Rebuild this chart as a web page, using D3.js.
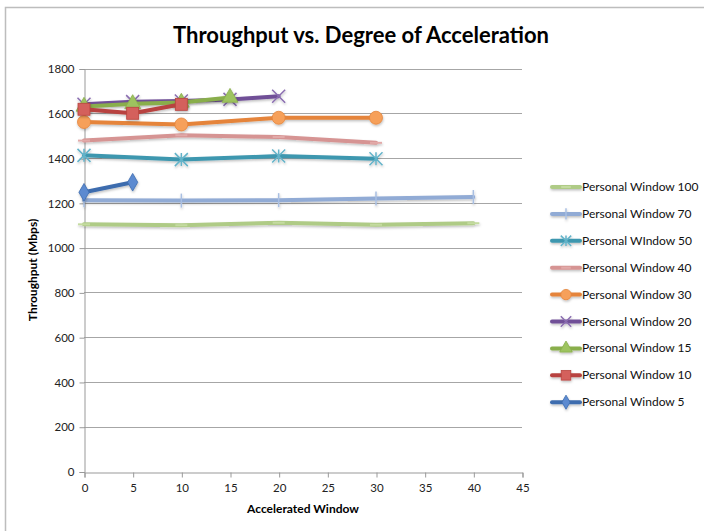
<!DOCTYPE html>
<html><head><meta charset="utf-8">
<script src="https://cdn.jsdelivr.net/npm/d3@7"></script>
<style>
html,body{margin:0;padding:0;background:#fff;}
svg{display:block;}
text{font-family:Lato,"Open Sans",sans-serif;}
</style></head>
<body>
<svg id="c" width="704" height="531"></svg>
<script>
const title = "Throughput vs. Degree of Acceleration";
const xLabel = "Accelerated Window";
const yLabel = "Throughput (Mbps)";
const xTicks = [0,5,10,15,20,25,30,35,40,45];
const yTicks = [0,200,400,600,800,1000,1200,1400,1600,1800];

const seriesNames = ["Personal Window 100","Personal Window 70","Personal WIndow 50","Personal Window 40","Personal Window 30","Personal Window 20","Personal Window 15","Personal Window 10","Personal Window 5"];
const pw100X = [0,10,20,30,40];   const pw100Y = [1104,1100,1111,1102,1109];
const pw70X  = [0,10,20,30,40];   const pw70Y  = [1212,1210,1212,1219,1226];
const pw50X  = [0,10,20,30];      const pw50Y  = [1412,1393,1409,1397];
const pw40X  = [0,10,20,30];      const pw40Y  = [1478,1502,1494,1468];
const pw30X  = [0,10,20,30];      const pw30Y  = [1561,1550,1580,1580];
const pw20X  = [0,5,10,15,20];    const pw20Y  = [1640,1652,1655,1662,1676];
const pw15X  = [0,5,10,15];       const pw15Y  = [1630,1642,1648,1670];
const pw10X  = [0,5,10];          const pw10Y  = [1618,1600,1640];
const pw5X   = [0,5];             const pw5Y   = [1247,1292];

const lineColors = ["#AFCB86","#91ABD5","#3E97AF","#D69493","#E5843A","#704F97","#89AE4B","#B8433F","#3D6CAE"];
const markerFill = ["#C4DBA0","#A9BFE2","#63B3C9","#E2AAA9","#F6A05A","#8A6DB0","#9DC35F","#D4605C","#5B8AD0"];
const markerTypes = ["dash","plus","star","dash","circle","x","triangle","square","diamond"];

const allX = [pw100X,pw70X,pw50X,pw40X,pw30X,pw20X,pw15X,pw10X,pw5X];
const allY = [pw100Y,pw70Y,pw50Y,pw40Y,pw30Y,pw20Y,pw15Y,pw10Y,pw5Y];

const svg = d3.select("#c");
const defs = svg.append("defs");
const f = defs.append("filter").attr("id","sh").attr("filterUnits","userSpaceOnUse")
  .attr("x",0).attr("y",0).attr("width",704).attr("height",531);
f.append("feDropShadow").attr("dx",0.5).attr("dy",1.5).attr("stdDeviation",1).attr("flood-color","#000").attr("flood-opacity",0.25);

// frame
svg.append("rect").attr("x",5.5).attr("y",7.5).attr("width",760).attr("height",600)
  .attr("fill","none").attr("stroke","#BDBDBD").attr("stroke-width",1.5);

const x = d3.scaleLinear().domain([0,45]).range([84,522]);
const y = d3.scaleLinear().domain([0,1800]).range([471.5,68.5]);

// gridlines
svg.append("g").selectAll("line").data(yTicks.filter(d=>d>0)).join("line")
  .attr("x1",x(0)).attr("x2",x(45)).attr("y1",d=>Math.round(y(d))+0.5).attr("y2",d=>Math.round(y(d))+0.5)
  .attr("stroke","#A6A6A6").attr("stroke-width",1);

// axes
const yAxis = d3.axisLeft(y).tickValues(yTicks).tickSize(5).tickPadding(5).tickFormat(d3.format("d"));
const gy = svg.append("g").attr("transform",`translate(${x(0)+0.5},0.5)`).call(yAxis);
const xAxis = d3.axisBottom(x).tickValues(xTicks).tickSize(5).tickPadding(6).tickFormat(d3.format("d"));
const gx = svg.append("g").attr("transform",`translate(0.5,${Math.round(y(0))+0.5})`).call(xAxis);
[gx,gy].forEach(g=>{
  g.select(".domain").attr("stroke","#999");
  g.selectAll(".tick line").attr("stroke","#999");
  g.selectAll(".tick text").attr("fill","#222").style("font-size","11.5px").style("font-family","Lato, sans-serif");
});

// titles
svg.append("text").attr("x",361).attr("y",43).attr("text-anchor","middle")
  .style("font-size","22px").style("font-weight","bold").attr("fill","#000").text(title);
svg.append("text").attr("x",303).attr("y",513).attr("text-anchor","middle")
  .style("font-size","12px").style("font-weight","bold").attr("fill","#000").text(xLabel);
svg.append("text").attr("transform","translate(37,270) rotate(-90)").attr("text-anchor","middle")
  .style("font-size","12px").style("font-weight","bold").attr("fill","#000").text(yLabel);

function drawMarker(g, type, cx, cy, i, scale){
  const s = scale||1;
  const col = lineColors[i], fill = markerFill[i];
  if(type==="dash"){
    g.append("line").attr("x1",cx-6*s).attr("x2",cx+6*s).attr("y1",cy).attr("y2",cy).attr("stroke",fill).attr("stroke-width",2);
  } else if(type==="plus"){
    g.append("line").attr("x1",cx).attr("x2",cx).attr("y1",cy-7*s).attr("y2",cy+7*s).attr("stroke",fill).attr("stroke-width",1.5);
  } else if(type==="star"){
    const r=6.5*s;
    g.append("path").attr("d",`M${cx-r},${cy-r}L${cx+r},${cy+r}M${cx-r},${cy+r}L${cx+r},${cy-r}M${cx},${cy-r}L${cx},${cy+r}`).attr("stroke",fill).attr("stroke-width",1.5).attr("fill","none");
  } else if(type==="x"){
    const r=6.5*s;
    g.append("path").attr("d",`M${cx-r},${cy-r}L${cx+r},${cy+r}M${cx-r},${cy+r}L${cx+r},${cy-r}`).attr("stroke",fill).attr("stroke-width",1.5).attr("fill","none");
  } else if(type==="circle"){
    g.append("circle").attr("cx",cx).attr("cy",cy).attr("r",6.5*s).attr("fill",fill).attr("stroke",col).attr("stroke-width",0.8);
  } else if(type==="triangle"){
    g.append("path").attr("d",d3.symbol(d3.symbolTriangle, 110*s*s)()).attr("transform",`translate(${cx},${cy})`).attr("fill",fill).attr("stroke",col).attr("stroke-width",0.8);
  } else if(type==="square"){
    const r=6*s;
    g.append("rect").attr("x",cx-r).attr("y",cy-r).attr("width",2*r).attr("height",2*r).attr("fill",fill).attr("stroke",col).attr("stroke-width",0.8);
  } else if(type==="diamond"){
    g.append("path").attr("d",d3.symbol(d3.symbolDiamond, 90*s*s)()).attr("transform",`translate(${cx},${cy})`).attr("fill",fill).attr("stroke",col).attr("stroke-width",0.8);
  }
}

const line = d3.line().x(d=>x(d[0])).y(d=>y(d[1]));
seriesNames.forEach((name,i)=>{
  const pts = allX[i].map((v,k)=>[v,allY[i][k]]);
  const g = svg.append("g").attr("filter","url(#sh)");
  g.append("path").datum(pts).attr("d",line).attr("fill","none")
    .attr("stroke",lineColors[i]).attr("stroke-width",4).attr("stroke-linejoin","round").attr("stroke-linecap","round");
  pts.forEach(p=>drawMarker(g, markerTypes[i], x(p[0]), y(p[1]), i, 1));
});

// legend
const lg = svg.append("g");
seriesNames.forEach((name,i)=>{
  const ly = 187 + i*26.9;
  const g = lg.append("g").attr("filter","url(#sh)");
  g.append("line").attr("x1",552).attr("x2",580).attr("y1",ly).attr("y2",ly)
    .attr("stroke",lineColors[i]).attr("stroke-width",4).attr("stroke-linecap","round");
  drawMarker(g, markerTypes[i], 566, ly, i, 0.8);
  lg.append("text").attr("x",582).attr("y",ly+4).style("font-size","12px").attr("fill","#111").text(name);
});
</script>
</body></html>
